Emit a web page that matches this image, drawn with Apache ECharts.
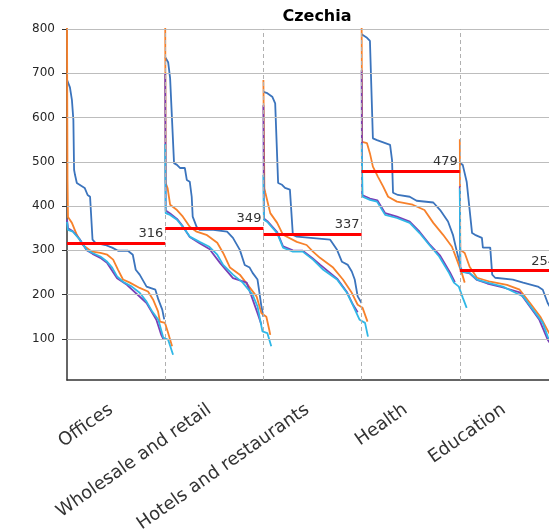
<!DOCTYPE html>
<html>
<head>
<meta charset="utf-8">
<script src="https://cdn.jsdelivr.net/npm/echarts@6/dist/echarts.min.js"></script>
<style>html,body{margin:0;padding:0;background:#fff;overflow:hidden}#chart{width:549px;height:530px}</style>
</head>
<body>
<div id="chart"></div>
<script>
const title = 'Czechia';
const categories = ['Offices', 'Wholesale and retail', 'Hotels and restaurants', 'Health', 'Education'];
const centralValues = [316, 349, 337, 479, 254];
const yTicks = [100, 200, 300, 400, 500, 600, 700, 800];

// each curve: [position within category (0 = start), value]
const blueCurves = [
  [[0,685],[0.03,668],[0.05,640],[0.065,594],[0.072,482],[0.082,470],[0.10,452],[0.18,441],[0.21,425],[0.235,421],[0.26,324],[0.29,317],[0.39,312],[0.46,306],[0.52,299],[0.62,299],[0.67,290],[0.70,256],[0.74,245],[0.81,218],[0.90,211],[0.93,189],[0.97,166],[0.99,144]],
  [[0,736],[0.02,734],[0.03,725],[0.05,689],[0.07,685],[0.09,497],[0.12,493],[0.15,486],[0.20,486],[0.22,459],[0.25,455],[0.27,421],[0.28,376],[0.32,353],[0.35,346],[0.49,346],[0.63,342],[0.69,328],[0.76,301],[0.81,267],[0.86,261],[0.89,249],[0.94,234],[0.96,204],[0.98,173],[1.0,150]],
  [[0,658],[0.04,655],[0.09,647],[0.12,632],[0.15,452],[0.19,448],[0.22,441],[0.27,437],[0.30,335],[0.34,331],[0.68,324],[0.75,301],[0.80,274],[0.86,267],[0.90,252],[0.93,234],[0.96,196],[1.0,181]],
  [[0,788],[0.055,780],[0.085,773],[0.115,553],[0.157,549],[0.29,538],[0.31,504],[0.32,430],[0.37,425],[0.49,421],[0.56,412],[0.73,408],[0.80,391],[0.88,365],[0.93,335],[0.97,297],[1.0,270]],
  [[0,497],[0.03,493],[0.07,455],[0.085,452],[0.125,339],[0.155,335],[0.225,328],[0.235,306],[0.31,306],[0.33,245],[0.36,238],[0.54,234],[0.645,227],[0.795,218],[0.845,211],[0.895,181],[0.95,160],[1.0,140]]
];
const orangeCurves = [
  [[0,830],[0.005,459],[0.01,375],[0.05,362],[0.10,335],[0.16,312],[0.255,297],[0.34,294],[0.41,290],[0.47,279],[0.52,256],[0.57,234],[0.64,227],[0.74,215],[0.825,207],[0.876,189],[0.927,162],[0.947,139],[0.998,136],[1.03,113],[1.07,83]],
  [[0,830],[0.005,452],[0.025,440],[0.05,403],[0.12,391],[0.18,376],[0.25,353],[0.32,342],[0.42,335],[0.53,317],[0.59,294],[0.66,261],[0.76,245],[0.84,222],[0.93,196],[0.98,158],[1.03,150],[1.06,120],[1.07,109]],
  [[0,685],[0.01,440],[0.02,430],[0.07,384],[0.14,362],[0.20,335],[0.34,319],[0.44,312],[0.505,297],[0.576,283],[0.71,261],[0.81,234],[0.90,204],[0.96,177],[1.01,170],[1.06,139]],
  [[0,830],[0.005,545],[0.055,542],[0.085,519],[0.115,489],[0.167,466],[0.22,444],[0.27,421],[0.36,410],[0.52,403],[0.64,391],[0.73,362],[0.83,335],[0.92,308],[0.97,279],[1.02,249],[1.05,227]],
  [[0,551],[0.005,301],[0.05,294],[0.10,263],[0.175,238],[0.31,229],[0.48,222],[0.61,211],[0.715,181],[0.82,150],[0.90,117],[0.96,95],[1.05,80]]
];
const cyanCurves = [
  [[0,364],[0.01,346],[0.06,342],[0.13,324],[0.20,301],[0.26,294],[0.34,286],[0.41,274],[0.46,261],[0.51,241],[0.57,229],[0.66,218],[0.74,204],[0.81,184],[0.87,161],[0.93,143],[0.98,103],[1.03,98],[1.08,64]],
  [[0,540],[0.005,384],[0.05,380],[0.12,369],[0.18,353],[0.25,331],[0.35,319],[0.45,308],[0.53,290],[0.59,267],[0.69,245],[0.79,227],[0.89,200],[0.94,173],[0.99,117],[1.04,113],[1.08,83]],
  [[0,470],[0.005,369],[0.04,364],[0.14,339],[0.20,306],[0.30,297],[0.40,297],[0.505,279],[0.61,256],[0.75,234],[0.85,204],[0.91,177],[0.98,143],[1.035,136],[1.065,105]],
  [[0,542],[0.01,421],[0.085,414],[0.157,410],[0.24,380],[0.36,373],[0.49,362],[0.59,339],[0.69,312],[0.79,286],[0.89,249],[0.94,227],[0.99,218],[1.03,193],[1.07,170]],
  [[0,440],[0.005,260],[0.03,251],[0.10,249],[0.175,234],[0.28,227],[0.44,218],[0.54,207],[0.645,196],[0.745,166],[0.845,136],[0.895,105],[0.95,85]]
];
const purpleCurves = [
  [[0,370],[0.01,350],[0.06,343],[0.13,325],[0.20,300],[0.26,292],[0.34,283],[0.41,271],[0.51,237],[0.61,222],[0.81,181],[0.91,143],[0.96,109],[0.98,100]],
  [[0,700],[0.005,390],[0.05,383],[0.12,371],[0.18,354],[0.25,330],[0.35,316],[0.45,303],[0.56,271],[0.69,237],[0.83,227],[0.94,158],[0.98,132]],
  [[0,628],[0.005,372],[0.04,366],[0.14,341],[0.20,309],[0.30,300],[0.40,299],[0.50,282],[0.58,267],[0.75,236],[0.85,206],[0.91,178],[0.96,160]],
  [[0,707],[0.005,425],[0.085,417],[0.16,413],[0.24,384],[0.36,376],[0.49,365],[0.59,342],[0.69,314],[0.80,288],[0.90,250],[0.95,228]],
  [[0,445],[0.005,262],[0.03,252],[0.10,248],[0.175,233],[0.28,225],[0.44,216],[0.61,205],[0.81,143],[0.895,98],[0.95,80]]
];

const FONT = 'DejaVu Sans';
const groups = [
  {name: 'A', color: '#3b74bd', curves: blueCurves, w: 1.8},
  {name: 'B', color: '#f7812b', curves: orangeCurves, w: 1.8},
  {name: 'D', color: '#7a3fb6', curves: purpleCurves, w: 1.8},
  {name: 'C', color: '#30b7e6', curves: cyanCurves, w: 1.8}
];

const series = [];
groups.forEach(g => {
  g.curves.forEach((curve, i) => {
    series.push({
      type: 'line', name: g.name, symbol: 'none', silent: true, clip: true, z: 3,
      lineStyle: {color: g.color, width: g.w}, itemStyle: {color: g.color},
      data: curve.map(p => [i + p[0], p[1]])
    });
  });
});
// horizontal grid lines at the tick values, drawn like the dashed separators
series.push({
  type: 'line', data: [], silent: true, z: 1,
  markLine: {
    symbol: 'none', silent: true, label: {show: false}, animation: false,
    lineStyle: {color: '#bdbdbd', type: [2000, 1], width: 1},
    data: yTicks.map(v => ({yAxis: v}))
  }
});
// separators
series.push({
  type: 'line', data: [], silent: true, z: 1,
  markLine: {
    symbol: 'none', silent: true, label: {show: false}, animation: false,
    lineStyle: {color: '#b0b0b0', type: [4, 3], width: 1},
    data: categories.slice(1).map((c, i) => ({xAxis: i + 1}))
  }
});
// central value lines
centralValues.forEach((v, i) => {
  series.push({
    type: 'line', data: [], silent: true, z: 5,
    markLine: {
      symbol: 'none', silent: true, animation: false,
      lineStyle: {color: '#ff0000', type: 'solid', width: 3},
      label: {show: true, position: 'insideEndTop', formatter: String(v), color: '#333', fontSize: 13, fontFamily: FONT, distance: [2, 3]},
      data: [[{coord: [i, v]}, {coord: [i + 1, v]}]]
    }
  });
});

const labelPos = categories.map((c, i) => i + 0.45);

const chart = echarts.init(document.getElementById('chart'), null, {renderer: 'canvas'});
chart.setOption({
  animation: false,
  backgroundColor: '#ffffff',
  title: {text: title, left: 312, top: 4, textAlign: 'center',
    textStyle: {fontFamily: FONT, fontSize: 16, fontWeight: 'bold', color: '#000'}},
  grid: {left: 67, width: 491, top: 29, bottom: 150, containLabel: false, outerBoundsMode: 'none'},
  xAxis: {
    type: 'value', min: 0, max: categories.length,
    axisLine: {show: true, lineStyle: {color: '#333', width: 1.5}},
    axisTick: {show: false},
    splitLine: {show: false},
    axisLabel: {
      customValues: labelPos, rotate: 35, margin: 28,
      fontFamily: FONT, fontSize: 18, color: '#333',
      formatter: v => categories[Math.floor(v + 1e-6)]
    }
  },
  yAxis: {
    type: 'value', min: 7, max: 800,
    axisLine: {show: true, lineStyle: {color: '#333', width: 1.5}},
    axisTick: {show: true, length: 5, customValues: yTicks, lineStyle: {color: '#333'}},
    splitLine: {show: false},
    axisLabel: {customValues: yTicks, margin: 12, fontFamily: FONT, fontSize: 12, color: '#262626'}
  },
  series: series
});
</script>
</body>
</html>
